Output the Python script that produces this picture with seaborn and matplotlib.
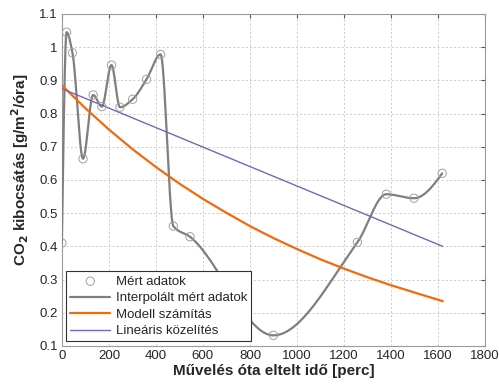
import numpy as np
import pandas as pd
import matplotlib
matplotlib.use("Agg")
import matplotlib.pyplot as plt
import seaborn as sns

# Measured data (Mért adatok)
meas_t = [0, 20, 45, 90, 133, 170, 211, 247, 301, 360, 420, 474, 545, 900, 1257, 1380, 1498, 1618]
meas_y = [0.41, 1.045, 0.983, 0.664, 0.856, 0.821, 0.946, 0.819, 0.843, 0.903, 0.978, 0.461, 0.429, 0.132, 0.412, 0.557, 0.545, 0.620]

# Model calculation (Modell számítás)
model_t = [0, 100, 200, 300, 400, 500, 600, 700, 800, 900, 1000, 1100, 1200, 1300, 1400, 1500, 1620]
model_y = [0.885, 0.816, 0.752, 0.693, 0.639, 0.589, 0.543, 0.501, 0.461, 0.425, 0.392, 0.361, 0.333, 0.307, 0.283, 0.261, 0.235]

# Linear approximation (Lineáris közelítés)
lin_t = [0, 1620]
lin_y = [0.875, 0.400]

x_ticks = [0, 200, 400, 600, 800, 1000, 1200, 1400, 1600, 1800]
y_ticks = [0.1, 0.2, 0.3, 0.4, 0.5, 0.6, 0.7, 0.8, 0.9, 1.0, 1.1]
y_ticklabels = ["0.1", "0.2", "0.3", "0.4", "0.5", "0.6", "0.7", "0.8", "0.9", "1", "1.1"]


def pchip(x, y, xq):
    x = np.asarray(x, float)
    y = np.asarray(y, float)
    h = np.diff(x)
    d = np.diff(y) / h
    n = len(x)
    m = np.zeros(n)
    for k in range(1, n - 1):
        if d[k - 1] * d[k] > 0:
            w1 = 2 * h[k] + h[k - 1]
            w2 = h[k] + 2 * h[k - 1]
            m[k] = (w1 + w2) / (w1 / d[k - 1] + w2 / d[k])
        else:
            m[k] = 0.0

    def end_slope(h0, h1, d0, d1):
        s = ((2 * h0 + h1) * d0 - h0 * d1) / (h0 + h1)
        if np.sign(s) != np.sign(d0):
            s = 0.0
        elif np.sign(d0) != np.sign(d1) and abs(s) > abs(3 * d0):
            s = 3 * d0
        return s

    m[0] = end_slope(h[0], h[1], d[0], d[1])
    m[-1] = end_slope(h[-1], h[-2], d[-1], d[-2])
    xq = np.asarray(xq, float)
    idx = np.clip(np.searchsorted(x, xq) - 1, 0, n - 2)
    t = (xq - x[idx]) / h[idx]
    h00 = 2 * t**3 - 3 * t**2 + 1
    h10 = t**3 - 2 * t**2 + t
    h01 = -2 * t**3 + 3 * t**2
    h11 = t**3 - t**2
    return h00 * y[idx] + h10 * h[idx] * m[idx] + h01 * y[idx + 1] + h11 * h[idx] * m[idx + 1]


tq = np.linspace(meas_t[0], meas_t[-1], 1600)
interp_df = pd.DataFrame({"t": tq, "y": pchip(meas_t, meas_y, tq)})
meas_df = pd.DataFrame({"t": meas_t, "y": meas_y})
model_df = pd.DataFrame({"t": model_t, "y": model_y})
lin_df = pd.DataFrame({"t": lin_t, "y": lin_y})

sns.set_style("white")
plt.rcParams["font.family"] = ["Liberation Sans", "DejaVu Sans"]

fig = plt.figure(figsize=(4.99, 3.87), dpi=100)
ax = fig.add_axes([0.124, 0.106, 0.848, 0.858])

gray = "#7f7f7f"
orange = "#EE6B10"
purple = "#7E62B4"

sns.scatterplot(data=meas_df, x="t", y="y", ax=ax, marker="o", s=36,
                facecolor="none", edgecolor="#a0a0a0", linewidth=0.7,
                label="Mért adatok", zorder=4)
sns.lineplot(data=interp_df, x="t", y="y", ax=ax, color=gray, lw=1.6,
             label="Interpolált mért adatok", zorder=3, sort=False)
sns.lineplot(data=model_df, x="t", y="y", ax=ax, color=orange, lw=1.6,
             label="Modell számítás", zorder=3, sort=False)
sns.lineplot(data=lin_df, x="t", y="y", ax=ax, color=purple, lw=1.0,
             label="Lineáris közelítés", zorder=3, sort=False)

ax.set_xlim(0, 1800)
ax.set_ylim(0.1, 1.1)
ax.set_xticks(x_ticks)
ax.set_yticks(y_ticks)
ax.set_yticklabels(y_ticklabels)
ax.tick_params(axis="both", direction="in", length=3, width=0.8, color="#555555",
               labelsize=9.5, top=True, right=True, pad=3)
ax.grid(True, color="#c4c4c4", linestyle=(0, (2.5, 2.5)), linewidth=0.6)
for s in ax.spines.values():
    s.set_color("#9a9a9a")
    s.set_linewidth(0.8)

ax.set_xlabel("Művelés óta eltelt idő [perc]", fontsize=11, fontweight="bold", labelpad=1)
ax.set_ylabel("CO$_\\mathbf{2}$ kibocsátás [g/m$^\\mathbf{2}$/óra]", fontsize=11,
              fontweight="bold")
ax.yaxis.set_label_coords(-0.073, 0.53)

leg = ax.legend(loc="lower left", frameon=True, fancybox=False, fontsize=9.5,
                borderaxespad=0.35, handlelength=3.0, handletextpad=0.45,
                labelspacing=0.33, borderpad=0.3)
leg.get_frame().set_edgecolor("#333333")
leg.get_frame().set_linewidth(0.8)
leg.get_frame().set_facecolor("white")
leg.get_frame().set_alpha(1)
leg.set_zorder(10)

fig.savefig("out.png", dpi=100, facecolor="white")
